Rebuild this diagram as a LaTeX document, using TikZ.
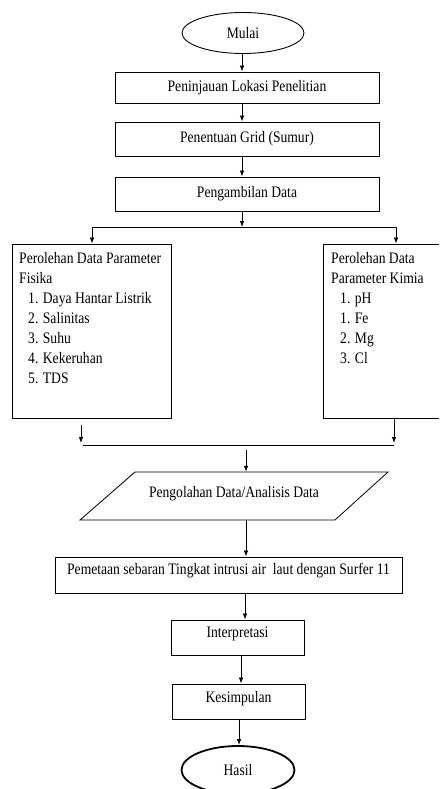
\documentclass[tikz,border=0pt]{standalone}
\usepackage{fontspec}
\setmainfont[FakeStretch=0.85]{Liberation Serif}
\usetikzlibrary{shapes.geometric,arrows.meta,calc}
\tikzset{
  box/.style={draw, line width=0.9pt, inner sep=0pt, font=\fontsize{16}{20}\selectfont},
  oval/.style={draw, ellipse, line width=0.9pt, inner sep=0pt, font=\fontsize{16}{20}\selectfont},
  txt/.style={inner sep=0pt, align=left, anchor=north west, font=\fontsize{16}{20}\selectfont},
  arr/.style={-{Latex[length=6pt,width=4.5pt]}, line width=0.8pt},
  ln/.style={line width=0.8pt}
}
\newcommand\upby[2]{\raisebox{#1}[\height][\depth]{#2}}
\begin{document}
\begin{tikzpicture}[x=1pt,y=-1pt]
\useasboundingbox (0,0) rectangle (439,789);
\clip (0,0) rectangle (439,789);
% nodes
\node[oval, minimum width=122pt, minimum height=41pt] (mulai) at (243,33) {Mulai};
\node[box, minimum width=264pt, minimum height=31pt] (b1) at (247,87.5) {Peninjauan Lokasi Penelitian};
\node[box, minimum width=264pt, minimum height=34pt] (b2) at (247,139) {Penentuan Grid (Sumur)};
\node[box, minimum width=264pt, minimum height=34pt] (b3) at (247,194) {Pengambilan Data};
\node[box, minimum width=159pt, minimum height=174pt] (fis) at (91.5,331) {};
\node[box, minimum width=122pt, minimum height=174pt] (kim) at (384,331) {};
\node[txt] (fist) at (19,252) {Perolehan Data Parameter\\
Fisika\\
\hspace*{9pt}1. Daya Hantar Listrik\\
\hspace*{9pt}2. Salinitas\\
\hspace*{9pt}3. Suhu\\
\hspace*{9pt}4. Kekeruhan\\
\hspace*{9pt}5. TDS};
\node[txt] (kimt) at (331,252) {Perolehan Data\\
Parameter Kimia\\
\hspace*{9pt}1. pH\\
\hspace*{9pt}1. Fe\\
\hspace*{9pt}2. Mg\\
\hspace*{9pt}3. Cl};
\draw[ln] (135,472) -- (388,472) -- (335,520) -- (80,520) -- cycle;
\node[inner sep=0pt, minimum width=200pt, minimum height=48pt, font=\fontsize{16}{20}\selectfont] (proc) at (234,496) {\upby{2.5pt}{Pengolahan Data/Analisis Data}};
\node[box, minimum width=347pt, minimum height=36pt] (b4) at (228.5,575) {\upby{4.5pt}{Pemetaan sebaran Tingkat intrusi air\ \ laut dengan Surfer 11}};
\node[box, minimum width=133pt, minimum height=35pt] (b5) at (237.5,637.5) {\upby{4pt}{Interpretasi}};
\node[box, minimum width=133pt, minimum height=35pt] (b6) at (238.5,701.5) {\upby{2.5pt}{Kesimpulan}};
\node[oval, line width=1.8pt, minimum width=113pt, minimum height=48pt] (hasil) at (238,770) {Hasil};
% coordinates
\coordinate (x0) at (242,0);
\coordinate (j1) at (242,227);
\coordinate (jl) at (92,227);
\coordinate (jr) at (396,227);
\coordinate (ml) at (81,425);
\coordinate (mlb) at (81,443);
\coordinate (mr) at (394,443);
\coordinate (hl) at (83,445);
\coordinate (hr) at (394,445);
\coordinate (pa) at (246,450);
\coordinate (x1) at (245,0);
\coordinate (x2) at (241,0);
\coordinate (x3) at (239,0);
% connectors
\draw[arr] (mulai.south -| x0) -- (b1.north -| x0);
\draw[arr] (b1.south -| x0) -- (b2.north -| x0);
\draw[arr] (b2.south -| x0) -- (b3.north -| x0);
\draw[arr] (b3.south -| x0) -- (j1);
\draw[ln] (jl) -- (jr);
\draw[arr] (jl) -- (jl |- fis.north);
\draw[arr] (jr) -- (jr |- kim.north);
\draw[arr] (ml) -- (mlb);
\draw[arr] (kim.south -| mr) -- (mr);
\draw[ln] (hl) -- (hr);
\draw[arr] (pa) -- (pa |- proc.north);
\draw[arr] (proc.south -| pa) -- (b4.north -| pa);
\draw[arr] (b4.south -| x1) -- (b5.north -| x1);
\draw[arr] (b5.south -| x2) -- (b6.north -| x2);
\draw[arr] (b6.south -| x3) -- (hasil.north -| x3);
\end{tikzpicture}
\end{document}
